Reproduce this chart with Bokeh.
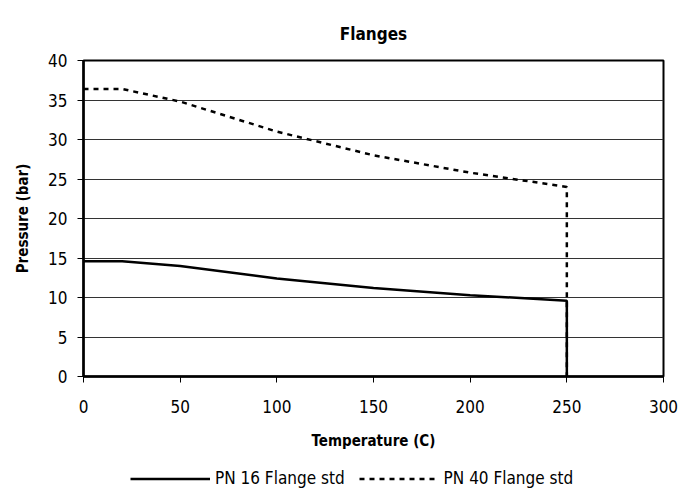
from bokeh.plotting import figure
from bokeh.models import Legend, LegendItem, Title, FixedTicker
from bokeh.layouts import column
from bokeh.embed import file_html
from bokeh.resources import INLINE

temps = [0, 20, 50, 100, 150, 200, 250, 250]
pn16 = [14.6, 14.6, 14.0, 12.4, 11.2, 10.3, 9.6, 0]
pn40 = [36.4, 36.4, 34.8, 31.0, 28.0, 25.8, 24.0, 0]
x_ticks = [0, 50, 100, 150, 200, 250, 300]
y_ticks = [0, 5, 10, 15, 20, 25, 30, 35, 40]
series_labels = ["PN 16 Flange std", "PN 40 Flange std"]

FONT = "DejaVu Sans Condensed"

p = figure(frame_width=580, frame_height=316, x_range=(0, 300), y_range=(0, 40),
           output_backend="svg", toolbar_location=None,
           min_border_left=83, min_border_right=29, min_border_top=60, min_border_bottom=88)
p.title = None
t = Title(text="Flanges", align="center", text_font=FONT, text_font_size="17px",
          text_font_style="bold", text_color="black", standoff=34)
p.add_layout(t, "above")

p.background_fill_color = "white"
p.border_fill_color = "white"
p.outline_line_color = "black"
p.outline_line_width = 2

p.xgrid.grid_line_color = None
p.ygrid.grid_line_color = "#333333"
p.ygrid.grid_line_width = 1
p.ygrid.ticker = FixedTicker(ticks=y_ticks)

for ax in (p.xaxis[0], p.yaxis[0]):
    ax.axis_line_width = 2.5
    ax.axis_line_color = "black"
    ax.major_tick_line_color = "black"
    ax.major_tick_line_width = 1
    ax.major_tick_out = 6
    ax.major_tick_in = 0
    ax.minor_tick_line_color = None
    ax.major_label_text_font = FONT
    ax.major_label_text_font_size = "17px"
    ax.major_label_text_color = "black"
    ax.axis_label_text_font = FONT
    ax.axis_label_text_font_size = "15px"
    ax.axis_label_text_font_style = "bold"
    ax.axis_label_text_color = "black"

p.xaxis[0].ticker = FixedTicker(ticks=x_ticks)
p.yaxis[0].ticker = FixedTicker(ticks=y_ticks)
p.xaxis.axis_label = "Temperature (C)"
p.yaxis.axis_label = "Pressure (bar)"
p.xaxis.major_label_standoff = 17
p.xaxis.axis_label_standoff = 16
p.yaxis.major_label_standoff = 10
p.yaxis.axis_label_standoff = 13

p.line(temps, pn16, line_color="black", line_width=2.5)
p.line(temps, pn40, line_color="black", line_width=2.5, line_dash="5 5")

# Legend strip below the chart (series drawn out of view so only the legend shows)
p2 = figure(width=692, height=26, x_range=(0, 300), y_range=(100, 200),
            output_backend="svg", toolbar_location=None,
            x_axis_location=None, y_axis_location=None,
            min_border_left=0, min_border_right=0, min_border_top=0, min_border_bottom=0)
p2.outline_line_color = None
p2.xgrid.grid_line_color = None
p2.ygrid.grid_line_color = None
l1 = p2.line(temps, pn16, line_color="black", line_width=2.5)
l2 = p2.line(temps, pn40, line_color="black", line_width=2.5, line_dash="5 5")

legend = Legend(items=[LegendItem(label=series_labels[0], renderers=[l1]),
                       LegendItem(label=series_labels[1], renderers=[l2])],
                orientation="horizontal", location=(47, 2),
                border_line_color=None, background_fill_alpha=0,
                label_text_font=FONT, label_text_font_size="17px",
                label_text_color="black",
                glyph_width=80, glyph_height=17, label_height=17,
                spacing=14, label_standoff=5, padding=2, margin=0)
p2.add_layout(legend, "center")

open("out.html", "w").write(file_html(column(p, p2, spacing=0), INLINE))
